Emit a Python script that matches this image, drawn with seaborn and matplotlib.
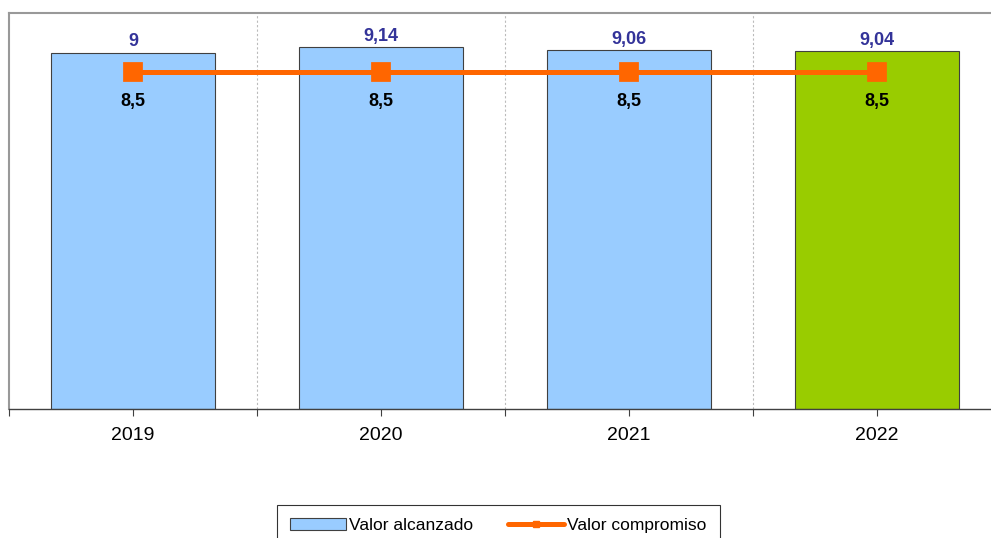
import matplotlib
matplotlib.use("Agg")
import matplotlib.pyplot as plt
import seaborn as sns
from matplotlib.patches import Patch
from matplotlib.lines import Line2D

years = ["2019", "2020", "2021", "2022"]
alcanzado = [9, 9.14, 9.06, 9.04]
compromiso = [8.5, 8.5, 8.5, 8.5]
bar_colors = ["#99CCFF", "#99CCFF", "#99CCFF", "#99CC00"]

sns.set_style("white")
plt.rcParams['font.family'] = ['Liberation Sans', 'DejaVu Sans']
plt.rcParams['text.color'] = 'black'
plt.rcParams['xtick.color'] = 'black'

fig = plt.figure(figsize=(9.91, 5.38), dpi=100)
ax = fig.add_axes([9/991, 129/538, 992/991, 396/538])

sns.barplot(x=years, y=alcanzado, hue=years, palette=bar_colors, legend=False,
            saturation=1, width=0.665, edgecolor="#404040", linewidth=0.8, ax=ax, zorder=2)
sns.pointplot(x=years, y=compromiso, color="#FF6600", markers="s", linestyles="-",
              markersize=11, linewidth=3.6, ax=ax, zorder=4)

ax.set_ylim(0, 10)
ax.set_xlim(-0.5, 3.5)
ax.set_yticks([])
ax.set_xlabel("")
ax.set_ylabel("")

for b in [0.5, 1.5, 2.5]:
    ax.axvline(b, color="#BBBBBB", linestyle=(0, (2, 2)), linewidth=0.8, zorder=1)

ax.set_xticks(range(len(years)))
ax.set_xticklabels(years, fontsize=14, color="black")
ax.set_xticks([-0.5, 0.5, 1.5, 2.5, 3.5], minor=True)
ax.tick_params(axis="x", which="both", direction="out", length=5, width=0.8,
               color="#404040", bottom=True, pad=8)

for s in ["left", "top", "right"]:
    ax.spines[s].set_color("#999999")
    ax.spines[s].set_linewidth(1.5)
ax.spines["bottom"].set_color("#404040")
ax.spines["bottom"].set_linewidth(1.0)

for i, v in enumerate(alcanzado):
    ax.text(i, v + 0.06, f"{v:g}".replace(".", ","), ha="center", va="bottom",
            fontsize=13, fontweight="bold", color="#333399", zorder=5)
for i, v in enumerate(compromiso):
    ax.text(i, v - 0.52, f"{v:g}".replace(".", ","), ha="center", va="top",
            fontsize=13, fontweight="bold", color="black", zorder=5)

handles = [Patch(facecolor="#99CCFF", edgecolor="#404040", linewidth=0.8),
           Line2D([0], [0], color="#FF6600", linewidth=3.6, marker="s", markersize=4)]
leg = fig.legend(handles, ["Valor alcanzado", "Valor compromiso"], loc="upper center",
                 bbox_to_anchor=(0.503, 0.061), ncol=2, fontsize=12.5, frameon=True,
                 fancybox=False, edgecolor="black", handlelength=3.2, handletextpad=0.2,
                 columnspacing=2.0, borderpad=0.75, borderaxespad=0)
leg.get_frame().set_linewidth(0.8)
for t in leg.get_texts():
    t.set_color("black")

fig.savefig("out.png", dpi=100)
